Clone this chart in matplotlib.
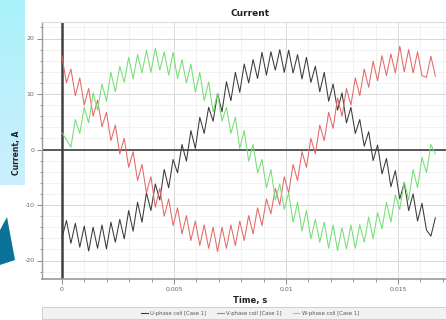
import matplotlib
matplotlib.use("Agg")
import matplotlib.pyplot as plt
import numpy as np
from matplotlib.patches import Rectangle, Polygon
from matplotlib.ticker import MultipleLocator, FixedLocator, FuncFormatter
from matplotlib.lines import Line2D

# ---- data ----
time_start = 0.0
time_end = 0.016667
n_samples = 85

u_phase = [-15.9, -12.8, -16.9, -13.3, -17.6, -13.8, -18.3, -14.0, -17.8, -13.6,
           -17.9, -13.1, -16.7, -12.6, -16.1, -11.0, -14.7, -9.5, -13.1, -7.8,
           -11.0, -6.2, -9.1, -3.6, -6.9, -1.8, -4.2, 0.9, -2.1, 3.4,
           0.2, 5.8, 2.9, 7.6, 5.1, 10.1, 6.8, 12.2, 8.8, 13.9,
           10.3, 15.4, 12.0, 16.2, 12.8, 17.5, 13.4, 17.6, 14.3, 18.0,
           13.9, 17.9, 13.8, 17.1, 12.7, 16.6, 12.1, 15.0, 10.4, 13.9,
           8.7, 11.8, 7.1, 10.2, 4.8, 7.6, 2.9, 5.4, 0.6, 3.2,
           -2.0, 0.8, -4.4, -1.6, -6.7, -3.8, -8.9, -6.0, -11.0, -8.0,
           -12.9, -9.7, -14.5, -15.6, -12.3]

v_phase = [16.8, 12.0, 14.5, 9.7, 12.9, 8.0, 11.0, 6.0, 8.9, 4.1,
           6.7, 1.6, 4.4, -0.8, 2.0, -3.2, -0.4, -5.6, -2.7, -7.8,
           -4.9, -10.4, -7.0, -12.0, -8.9, -13.7, -10.5, -15.2, -11.9, -16.4,
           -12.9, -17.3, -13.6, -17.8, -14.0, -18.4, -14.0, -17.8, -13.6, -17.3,
           -12.9, -16.4, -11.9, -15.2, -10.5, -13.7, -8.9, -11.6, -7.0, -10.0,
           -4.9, -7.8, -2.7, -5.6, -0.4, -3.2, 2.0, -0.8, 4.4, 1.6,
           6.7, 3.8, 9.3, 6.0, 11.0, 8.0, 12.9, 9.7, 14.5, 11.2,
           15.9, 12.4, 16.9, 13.3, 17.2, 13.8, 18.6, 14.0, 18.0, 13.8,
           17.6, 13.3, 13.0, 16.8, 13.2]

w_phase = [3.0, 1.8, 0.4, 5.4, 2.9, 7.6, 4.8, 10.2, 7.1, 11.8,
           8.7, 13.9, 10.4, 15.0, 12.1, 16.6, 12.7, 17.1, 13.8, 17.9,
           13.9, 18.2, 14.3, 17.6, 13.4, 17.5, 12.8, 16.2, 12.0, 15.4,
           10.3, 13.9, 8.8, 12.2, 6.8, 10.1, 5.1, 7.6, 2.9, 5.8,
           0.2, 3.4, -2.1, 0.9, -4.2, -1.8, -6.9, -3.6, -9.1, -6.2,
           -10.8, -7.8, -13.1, -9.5, -14.7, -11.0, -16.1, -12.6, -16.7, -13.1,
           -17.8, -13.6, -18.2, -14.1, -17.9, -13.6, -17.8, -13.5, -16.7, -12.2,
           -16.1, -11.4, -14.3, -9.5, -13.1, -8.2, -10.8, -5.8, -9.1, -3.6,
           -6.9, -1.4, -4.2, 0.9, -0.8]

series_labels = ["U-phase coil [Case 1]", "V-phase coil [Case 1]", "W-phase coil [Case 1]"]
series_colors = ["#3a3a3a", "#e46868", "#72e072"]
y_ticks = [-20, -10, 0, 10, 20]
x_ticks = [0.0, 0.005, 0.01, 0.015]

time_s = np.linspace(time_start, time_end, n_samples)

W, H = 446, 320
fig = plt.figure(figsize=(W / 100, H / 100), dpi=100)
fig.patch.set_facecolor("white")

def fx(x):
    return x / W

def fy(y):
    return 1 - y / H

# left slide decorations
deco = fig.add_axes([0, fy(185), fx(25), 185 / H], zorder=-5)
top = np.array([170, 242, 250]) / 255
bot = np.array([204, 238, 253]) / 255
grad = np.linspace(0, 1, 100)[:, None, None] * (bot - top) + top
deco.imshow(np.repeat(grad, 2, axis=1), aspect="auto", extent=[0, 1, 0, 1])
deco.axis("off")
fig.patches.append(Polygon([(fx(0), fy(230)), (fx(7), fy(217)), (fx(15), fy(260)), (fx(0), fy(265))],
                           closed=True, transform=fig.transFigure, facecolor="#0b7398",
                           edgecolor="none", zorder=-4))

# main axes
ax = fig.add_axes([fx(42), fy(279), 1 - fx(42), (279 - 22) / H])
ax.set_facecolor("white")
for data, col, lab in zip([u_phase, v_phase, w_phase], series_colors, series_labels):
    ax.plot(time_s, data, color=col, lw=0.75, zorder=3, label=lab)

ax.axvline(0, color="#404040", lw=1.8, zorder=2)
ax.axhline(0, color="#404040", lw=1.2, zorder=2)

ax.set_xlim((42 - 62) / 22400, (446 - 62) / 22400)
ax.set_ylim(-(279 - 149.5) / 5.55, (149.5 - 22) / 5.55)

ax.yaxis.set_major_locator(FixedLocator(y_ticks))
ax.yaxis.set_minor_locator(MultipleLocator(2))
ax.xaxis.set_major_locator(FixedLocator(x_ticks))
ax.xaxis.set_minor_locator(MultipleLocator(0.001))
ax.xaxis.set_major_formatter(FuncFormatter(lambda v, p: f"{v:g}"))
ax.yaxis.set_major_formatter(FuncFormatter(lambda v, p: f"{v:g}"))

ax.set_axisbelow(True)
ax.grid(which="minor", color="#f0f0f0", lw=0.6)
ax.grid(which="major", color="#d8d8d8", lw=0.7)

ax.spines["right"].set_visible(False)
ax.spines["top"].set_color("#dcdcdc")
ax.spines["top"].set_linewidth(0.8)
ax.spines["left"].set_color("#9a9a9a")
ax.spines["bottom"].set_color("#9a9a9a")
ax.spines["left"].set_linewidth(1.0)
ax.spines["bottom"].set_linewidth(1.2)

ax.tick_params(axis="both", which="major", direction="out", length=3.5, width=0.7,
               color="#8a8a8a", labelsize=4.5, labelcolor="#666666", pad=2)
ax.tick_params(axis="both", which="minor", direction="out", length=1.8, width=0.6,
               color="#8a8a8a")

# texts
fig.text(fx(250), fy(13.5), "Current", ha="center", va="center", fontsize=6.5,
         fontweight="bold", color="#222222")
fig.text(fx(17), fy(153), "Current, A", ha="center", va="center", rotation=90,
         fontsize=5.5, fontweight="bold", color="#222222")
fig.text(fx(250), fy(300), "Time, s", ha="center", va="center", fontsize=6,
         fontweight="bold", color="#222222")

# legend box
fig.patches.append(Rectangle((fx(42), fy(319)), fx(446) - fx(42), 12 / H,
                             transform=fig.transFigure, facecolor="#f2f2f2",
                             edgecolor="#c8c8c8", lw=0.6, zorder=0))
handles = [Line2D([], [], color=c, lw=0.8) for c in series_colors]
fig.legend(handles, series_labels, loc="center", bbox_to_anchor=(fx(250), fy(313)),
           ncol=3, fontsize=3.8, frameon=False, handlelength=1.2, columnspacing=2.2,
           handletextpad=0.4, labelcolor="#555555")

fig.savefig("out.png", dpi=100)
